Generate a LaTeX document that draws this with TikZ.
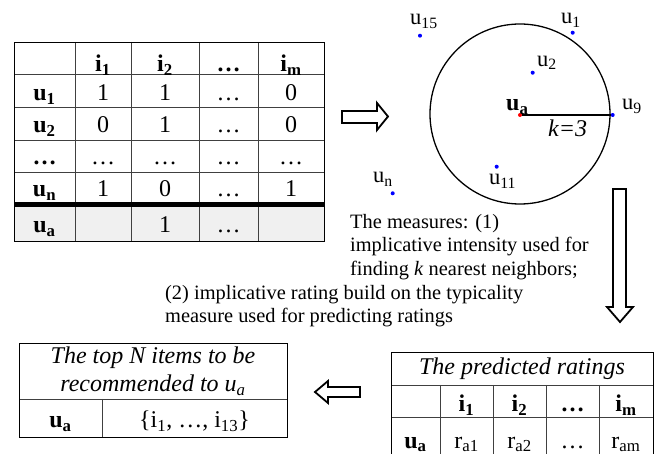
\documentclass[tikz,border=0pt]{standalone}
\usepackage{fontspec}
\setmainfont{Liberation Serif}
\newcommand\mysub[1]{\textsubscript{#1}}
\begin{document}
\begin{tikzpicture}[x=1pt,y=-1pt,
  every node/.style={inner sep=0pt},
  cell/.style={anchor=base, font=\fontsize{24}{26}\selectfont},
  txt/.style={anchor=base west, font=\fontsize{20.4}{23}\selectfont},
  grid/.style={line width=0.9pt},
  inner/.style={line width=0.9pt, draw=black!75},
  blockarrow/.style={draw, line width=1.8pt, fill=white, line join=miter},
  dot/.style={circle, fill=blue, inner sep=0pt, minimum size=4pt},
  lbl/.style={anchor=base west, font=\fontsize{22.5}{24}\selectfont}]
\useasboundingbox (0,0) rectangle (659,454);

% ---------- rating matrix ----------
\fill[gray!12] (14,205) rectangle (324,241);
\foreach \x in {75,131,199,258} \draw[inner] (\x,42) -- (\x,241);
\foreach \y in {74,107,140,172} \draw[inner] (14,\y) -- (324,\y);
\draw[grid] (14,42) rectangle (324,241);
\draw[line width=5pt] (14,205) -- (324,205);

\node[cell] (h1) at (103,71.5) {\textbf{i\mysub{1}}};
\node[cell] (h2) at (165,71.5) {\textbf{i\mysub{2}}};
\node[cell] (h3) at (228.5,71.5) {\textbf{…}};
\node[cell] (h4) at (291,71.5) {\textbf{i\mysub{m}}};

\node[cell] (r1) at (44.5,100.5) {\textbf{u\mysub{1}}};
\node[cell] (r1a) at (103,100.5) {1};
\node[cell] (r1b) at (165,100.5) {1};
\node[cell] (r1c) at (228.5,100.5) {…};
\node[cell] (r1d) at (291,100.5) {0};

\node[cell] (r2) at (44.5,133) {\textbf{u\mysub{2}}};
\node[cell] (r2a) at (103,133) {0};
\node[cell] (r2b) at (165,133) {1};
\node[cell] (r2c) at (228.5,133) {…};
\node[cell] (r2d) at (291,133) {0};

\node[cell] (r3) at (44.5,165) {\textbf{…}};
\node[cell] (r3a) at (103,165) {…};
\node[cell] (r3b) at (165,165) {…};
\node[cell] (r3c) at (228.5,165) {…};
\node[cell] (r3d) at (291,165) {…};

\node[cell] (r4) at (44.5,197) {\textbf{u\mysub{n}}};
\node[cell] (r4a) at (103,197) {1};
\node[cell] (r4b) at (165,197) {0};
\node[cell] (r4c) at (228.5,197) {…};
\node[cell] (r4d) at (291,197) {1};

\node[cell] (r5) at (44.5,233) {\textbf{u\mysub{a}}};
\node[cell] (r5b) at (165,233) {1};
\node[cell] (r5c) at (228.5,233) {…};

% ---------- arrows ----------
\draw[blockarrow] (342,111) -- (377,111) -- (377,103) -- (388,116.5) -- (377,130) -- (377,123) -- (342,123) -- cycle;
\draw[blockarrow] (613,189) -- (626,189) -- (626,307) -- (633,307) -- (620,322) -- (607,307) -- (613,307) -- cycle;
\draw[blockarrow] (360,387) -- (328,387) -- (328,381) -- (315,392) -- (328,403) -- (328,397) -- (360,397) -- cycle;

% ---------- neighbourhood ----------
\node[draw, circle, line width=1.3pt, minimum size=180pt] (circ) at (520,114) {};
\node[dot] (d15) at (420,35.7) {};
\node[dot] (d1) at (572.7,32.7) {};
\node[dot] (d2) at (532.7,72.7) {};
\node[dot] (d9) at (612.7,115) {};
\node[dot] (d11) at (496.7,166.7) {};
\node[dot] (dn) at (392.7,193.3) {};
\node[circle, fill=red, inner sep=0pt, minimum size=4pt] (da) at (520,115) {};
\draw[line width=1.3pt] (da) -- (d9);

\node[lbl] (l15) at (410,25) {u\mysub{15}};
\node[lbl] (l1) at (561,24) {u\mysub{1}};
\node[lbl] (l2) at (537,66.7) {u\mysub{2}};
\node[lbl] (l9) at (622,110) {u\mysub{9}};
\node[lbl, font=\fontsize{24}{26}\selectfont] (la) at (506,111) {\textbf{u\mysub{a}}};
\node[lbl, font=\fontsize{24}{26}\selectfont] (lk) at (548,137) {\textit{k=3}};
\node[lbl] (l11) at (489,185) {u\mysub{11}};
\node[lbl] (ln) at (373,183) {u\mysub{n}};

% ---------- measures text ----------
\node[txt] (m1) at (350,229) {The measures: (1)};
\node[txt] (m2) at (350,252) {implicative intensity used for};
\node[txt] (m3) at (350,275.5) {finding \textit{k} nearest neighbors;};
\node[txt] (m4) at (165,299.5) {(2) implicative rating build on the typicality};
\node[txt] (m5) at (165,323) {measure used for predicting ratings};

% ---------- predicted ratings ----------
\foreach \y in {385,417} \draw[inner] (391,\y) -- (653,\y);
\foreach \x in {440,493,546,599} \draw[inner] (\x,385) -- (\x,470);
\draw[grid] (391,352) rectangle (653,470);
\node[cell] (pt) at (522,375) {\textit{The predicted ratings}};
\node[cell] (p1) at (466.5,411.5) {\textbf{i\mysub{1}}};
\node[cell] (p2) at (519.5,411.5) {\textbf{i\mysub{2}}};
\node[cell] (p3) at (572.5,411.5) {\textbf{…}};
\node[cell] (p4) at (626,411.5) {\textbf{i\mysub{m}}};
\node[cell] (q0) at (415.5,448) {\textbf{u\mysub{a}}};
\node[cell] (q1) at (466.5,448) {r\mysub{a1}};
\node[cell] (q2) at (519.5,448) {r\mysub{a2}};
\node[cell] (q3) at (572.5,448) {…};
\node[cell] (q4) at (626,448) {r\mysub{am}};

% ---------- top N ----------
\draw[inner] (19,399) -- (287,399);
\draw[inner] (102,399) -- (102,437);
\draw[grid] (19,343) rectangle (287,437);
\node[cell] (n1) at (153,363) {\textit{The top N items to be}};
\node[cell] (n2) at (153,391.5) {\textit{recommended to u\mysub{a}}};
\node[cell] (n3) at (60.5,428) {\textbf{u\mysub{a}}};
\node[cell] (n4) at (194.5,428) {\{i\mysub{1}, …, i\mysub{13}\}};
\end{tikzpicture}
\end{document}
